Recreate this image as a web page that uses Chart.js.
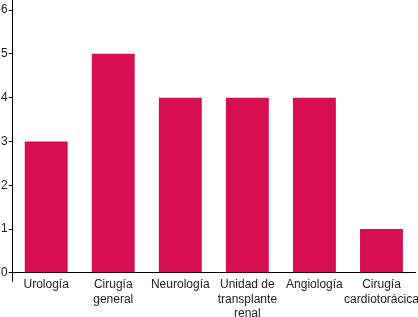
<!DOCTYPE html>
<html>
<head>
<meta charset="utf-8">
<script src="https://cdn.jsdelivr.net/npm/chart.js@4"></script>
<style>
  html, body { margin: 0; padding: 0; background: #fff; }
  #wrap { width: 418px; height: 317px; }
</style>
</head>
<body>
<div id="wrap"><canvas id="grafico"></canvas></div>
<script>
// categorias y valores
const categorias = [
    'Urología',
    ['Cirugía', 'general'],
    'Neurología',
    ['Unidad de', 'transplante', 'renal'],
    'Angiología',
    ['Cirugía', 'cardiotorácica']
];
const valores = [3, 5, 4, 4, 4, 1];
const ticksY = [0, 1, 2, 3, 4, 5, 6];

const color = '#D70F52';

new Chart(document.getElementById('grafico'), {
    type: 'bar',
    data: {
        labels: categorias,
        datasets: [{
            data: valores,
            backgroundColor: color,
            borderWidth: 0,
            barPercentage: 0.64,
            categoryPercentage: 1
        }]
    },
    options: {
        responsive: true,
        maintainAspectRatio: false,
        animation: false,
        layout: { padding: { left: 0, right: 3, top: 0, bottom: 0 } },
        plugins: {
            legend: { display: false },
            tooltip: { enabled: false }
        },
        scales: {
            x: {
                offset: true,
                grid: {
                    offset: true,
                    drawOnChartArea: false,
                    tickLength: 9,
                    color: (c) => c.index === 0 ? '#000' : 'rgba(0,0,0,0)'
                },
                border: { color: '#000', width: 1 },
                ticks: {
                    color: '#222',
                    font: { family: 'Arial, "Liberation Sans"', size: 12 },
                    maxRotation: 0,
                    autoSkip: false,
                    padding: -4
                }
            },
            y: {
                min: 0,
                max: 6.23,
                afterBuildTicks: (scale) => {
                    scale.ticks = ticksY.map(v => ({ value: v }));
                },
                afterFit: (scale) => {
                    scale.paddingTop = 0;
                },
                grid: {
                    drawOnChartArea: false,
                    tickLength: 4,
                    color: '#000'
                },
                border: { color: '#000', width: 1 },
                ticks: {
                    color: '#222',
                    font: { family: 'Arial, "Liberation Sans"', size: 12 },
                    padding: 1
                }
            }
        }
    }
});
</script>
</body>
</html>
